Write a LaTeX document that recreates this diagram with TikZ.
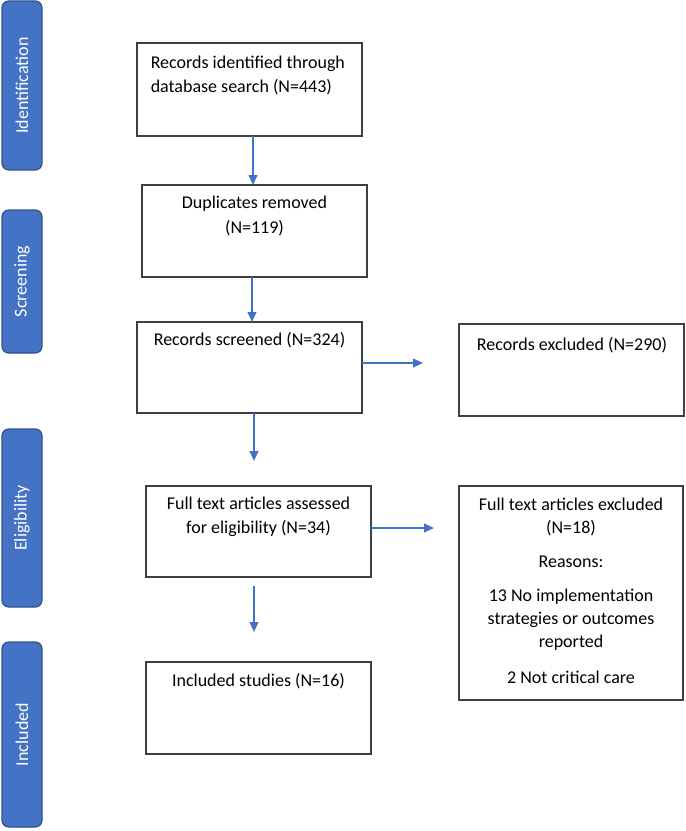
\documentclass[tikz,border=0pt]{standalone}
\usepackage{fontspec}
\setmainfont{Carlito}
\usetikzlibrary{arrows.meta,calc}
\definecolor{barblue}{HTML}{4472C4}
\definecolor{barborder}{HTML}{2F528F}
\definecolor{boxline}{HTML}{404040}
\tikzset{
  boxnode/.style={draw=boxline, line width=1.1pt, rectangle, inner sep=0pt, outer sep=0pt, minimum width=168.75pt},
  barnode/.style={draw=barborder, line width=0.9pt, fill=barblue, rounded corners=5pt, inner sep=0pt, outer sep=0pt, minimum width=30pt},
  bartext/.style={text=white, rotate=90, font=\fontsize{13.5}{16}\selectfont, inner sep=0pt},
  txt/.style={font=\fontsize{13.5}{18}\selectfont, inner sep=0pt, anchor=base},
  txtl/.style={txt, anchor=base west},
  arr/.style={draw=barblue, line width=1.4pt, -{Triangle[length=7.5pt,width=6.5pt]}}
}
\begin{document}
\begin{tikzpicture}[x=0.75pt,y=-0.75pt]
\useasboundingbox (0,0) rectangle (685,831);
% stage bars
\node[barnode, minimum height=126.75pt] (bid) at (22,85.5) {};
\node[bartext] (tid) at (bid.center) {Identification};
\node[barnode, minimum height=107.25pt] (bsc) at (22,281.5) {};
\node[bartext] (tsc) at (bsc.center) {Screening};
\node[barnode, minimum height=133.5pt] (bel) at (22,518) {};
\node[bartext] (tel) at (bel.center) {Eligibility};
\node[barnode, minimum height=138.75pt] (bin) at (22,734.5) {};
\node[bartext] (tin) at (bin.center) {Included};
% boxes
\node[boxnode, minimum height=69.75pt] (b1) at (249.5,89.5) {};
\node[boxnode, minimum height=69pt] (b2) at (254.5,231) {};
\node[boxnode, minimum height=68.25pt] (b3) at (249.5,367.5) {};
\node[boxnode, minimum height=68.25pt] (b4) at (258.5,531.5) {};
\node[boxnode, minimum height=69pt] (b5) at (258.5,708) {};
\node[boxnode, minimum height=69pt] (r1) at (571.5,370) {};
\node[boxnode, minimum width=168pt, minimum height=160.5pt] (r2) at (571,593) {};
% texts
\node[txtl] (t1a) at (150.5,68.3) {Records identified through};
\node[txtl] (t1b) at (150.5,92.7) {database search (N=443)};
\node[txt] (t2a) at (254.5,208) {Duplicates removed};
\node[txt] (t2b) at (254.5,233) {(N=119)};
\node[txt] (t3) at (249.5,345) {Records screened (N=324)};
\node[txt] (t4a) at (258.5,509) {Full text articles assessed};
\node[txt] (t4b) at (258.5,533) {for eligibility (N=34)};
\node[txt] (t5) at (258.5,686) {Included studies (N=16)};
\node[txt] (tr1) at (572,350) {Records excluded (N=290)};
\node[txt] (tr2a) at (571,510) {Full text articles excluded};
\node[txt] (tr2b) at (571,533) {(N=18)};
\node[txt] (tr2c) at (571,567) {Reasons:};
\node[txt] (tr2d) at (571,601) {13 No implementation};
\node[txt] (tr2e) at (571,624) {strategies or outcomes};
\node[txt] (tr2f) at (571,647) {reported};
\node[txt] (tr2g) at (571,683) {2 Not critical care};
% free arrow ends
\coordinate (e3) at (254,461);
\coordinate (e4) at (254,632);
\coordinate (eh1) at (423,363);
\coordinate (eh2) at (434,528);
% connectors
\draw[arr] ($(b1.south)+(3.5,0)$) -- ($(b2.north)+(-1.5,0)$);
\draw[arr] ($(b2.south)+(-2.5,0)$) -- ($(b3.north)+(2.5,0)$);
\draw[arr] ($(b3.south)+(4.5,0)$) -- (e3);
\draw[arr] ($(b4.south)+(-4.5,9)$) -- (e4);
\draw[arr] ($(b3.east)+(0,-4.5)$) -- (eh1);
\draw[arr] ($(b4.east)+(0,-3.5)$) -- (eh2);
\end{tikzpicture}
\end{document}
